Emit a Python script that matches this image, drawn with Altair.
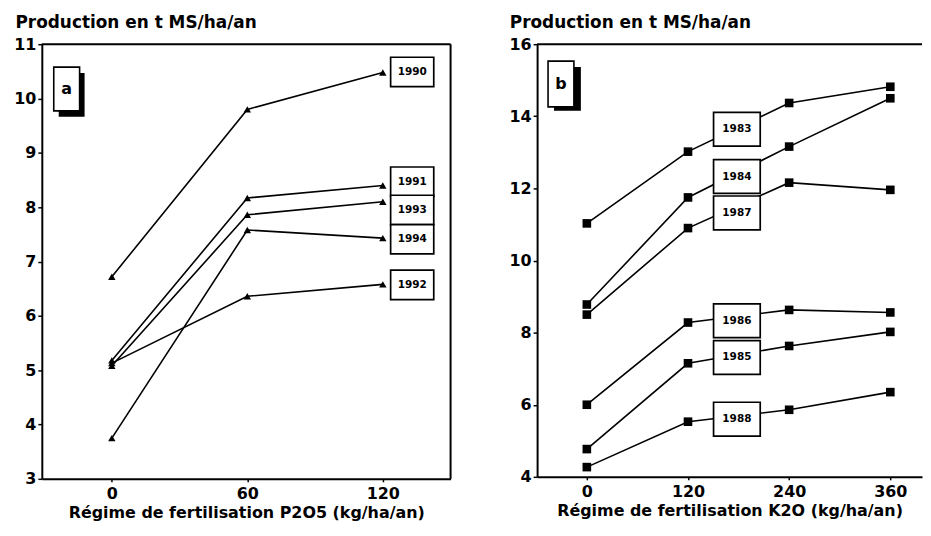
import altair as alt
import pandas as pd

FONT = "DejaVu Sans"

# ---- Panel a : P2O5 ----
p_doses = [0, 60, 120]
p_years = ["1990", "1991", "1993", "1994", "1992"]
p_1990 = [6.72, 9.80, 10.48]
p_1991 = [5.18, 8.17, 8.40]
p_1993 = [5.08, 7.86, 8.10]
p_1994 = [3.75, 7.58, 7.43]
p_1992 = [5.13, 6.36, 6.58]
p_label_x = [133, 133, 133, 133, 133]
p_label_y = [10.49, 8.47, 7.95, 7.41, 6.57]

# ---- Panel b : K2O ----
k_doses = [0, 120, 240, 360]
k_years = ["1983", "1984", "1987", "1986", "1985", "1988"]
k_1983 = [11.03, 13.02, 14.37, 14.82]
k_1984 = [8.78, 11.75, 13.16, 14.50]
k_1987 = [8.50, 10.90, 12.16, 11.96]
k_1986 = [6.00, 8.28, 8.63, 8.56]
k_1985 = [4.77, 7.15, 7.63, 8.02]
k_1988 = [4.27, 5.53, 5.86, 6.35]
k_label_x = [178, 178, 178, 178, 178, 178]
k_label_y = [13.64, 12.33, 11.32, 8.33, 7.31, 5.60]

p_series = [p_1990, p_1991, p_1993, p_1994, p_1992]
k_series = [k_1983, k_1984, k_1987, k_1986, k_1985, k_1988]


def long_df(doses, years, series):
    rows = []
    for yr, vals in zip(years, series):
        for d, v in zip(doses, vals):
            rows.append({"year": yr, "dose": d, "prod": v})
    return pd.DataFrame(rows)


def label_df(years, lx, ly):
    return pd.DataFrame({"year": years, "lx": lx, "ly": ly})


def panel(df, labs, xdom, xvals, ydom, yvals, shape, msize, xtitle, letter,
          w, h, boxpath, boxsize, titlex, right_border, wb, sb):
    xs = alt.Scale(domain=xdom, nice=False, zero=False)
    ys = alt.Scale(domain=ydom, nice=False, zero=False)
    xax = alt.Axis(values=xvals, title=xtitle, tickSize=3, tickWidth=1.5,
                   tickColor="black", labelPadding=4, titlePadding=3, grid=False,
                   domainColor="black", domainWidth=2,
                   labelFontSize=16, titleFontSize=16)
    yax = alt.Axis(values=yvals, title="Production en t MS/ha/an", titleAngle=0,
                   titleAlign="left", titleBaseline="alphabetic", titleX=titlex,
                   titleY=-17, tickSize=4, tickWidth=1.5, tickColor="black",
                   labelPadding=2, grid=False, domainColor="black", domainWidth=2,
                   labelFontSize=16, titleFontSize=17)
    base = alt.Chart(df)
    lines = base.mark_line(color="black", strokeWidth=1.6).encode(
        x=alt.X("dose:Q", scale=xs, axis=xax),
        y=alt.Y("prod:Q", scale=ys, axis=yax),
        detail="year:N",
    )
    pts = base.mark_point(shape=shape, filled=True, color="black", size=msize,
                          opacity=1).encode(
        x=alt.X("dose:Q", scale=xs), y=alt.Y("prod:Q", scale=ys))
    lb = alt.Chart(labs)
    boxes = lb.mark_point(shape=boxpath, size=boxsize, filled=True, fill="white",
                          stroke="black", strokeWidth=1.7, opacity=1,
                          fillOpacity=1, strokeOpacity=1).encode(
        x=alt.X("lx:Q", scale=xs), y=alt.Y("ly:Q", scale=ys))
    texts = lb.mark_text(font=FONT, fontWeight="bold", fontSize=10.5,
                         color="black").encode(
        x=alt.X("lx:Q", scale=xs), y=alt.Y("ly:Q", scale=ys), text="year:N")
    # panel letter box with shadow
    shadow = alt.Chart(pd.DataFrame({"k": [0]})).mark_rect(color="black").encode(
        x=alt.value(sb[0]), x2=alt.value(sb[1]), y=alt.value(sb[2]),
        y2=alt.value(sb[3]))
    wbox = alt.Chart(pd.DataFrame({"k": [0]})).mark_rect(
        fill="white", stroke="black", strokeWidth=1.6).encode(
        x=alt.value(wb[0]), x2=alt.value(wb[1]), y=alt.value(wb[2]),
        y2=alt.value(wb[3]))
    ltxt = alt.Chart(pd.DataFrame({"t": [letter]})).mark_text(
        font=FONT, fontWeight="bold", fontSize=16, color="black").encode(
        x=alt.value((wb[0] + wb[1]) / 2), y=alt.value((wb[2] + wb[3]) / 2),
        text="t:N")
    top = alt.Chart(pd.DataFrame({"k": [0]})).mark_rule(
        color="black", strokeWidth=2).encode(
        x=alt.value(0), x2=alt.value(w), y=alt.value(0))
    layers = [lines, pts, boxes, texts, shadow, wbox, ltxt, top]
    if right_border:
        rb = alt.Chart(pd.DataFrame({"k": [0]})).mark_rule(
            color="black", strokeWidth=2).encode(
            x=alt.value(w), y=alt.value(0), y2=alt.value(h))
        layers.append(rb)
    return alt.layer(*layers).properties(width=w, height=h)


left = panel(long_df(p_doses, p_years, p_series),
             label_df(p_years, p_label_x, p_label_y),
             [-31, 150], p_doses, [3, 11], list(range(3, 12)),
             "triangle-up", 55,
             "Régime de fertilisation P2O5 (kg/ha/an)", "a",
             411, 437, "M-1.47,-1L1.47,-1L1.47,1L-1.47,1Z", 870, -27, True,
             (12, 38, 23, 67), (17, 43, 29, 73))

right = panel(long_df(k_doses, k_years, k_series),
              label_df(k_years, k_label_x, k_label_y),
              [-59, 397.6], k_doses, [4, 16], list(range(4, 17, 2)),
              "square", 75,
              "Régime de fertilisation K2O (kg/ha/an)", "b",
              387, 435, "M-1.38,-1L1.38,-1L1.38,1L-1.38,1Z", 1156, -28, False,
              (11, 37, 17, 63), (17, 44, 23, 67))

chart = alt.hconcat(left, right, spacing=57).properties(
    padding={"left": 5, "top": 4, "right": 0, "bottom": 0}
).configure_view(stroke=None).configure_axis(
    labelFont=FONT, titleFont=FONT, labelFontWeight="bold",
    titleFontWeight="bold", labelColor="black", titleColor="black"
)

chart.save("out.html", embed_options={"renderer": "svg", "actions": False})
